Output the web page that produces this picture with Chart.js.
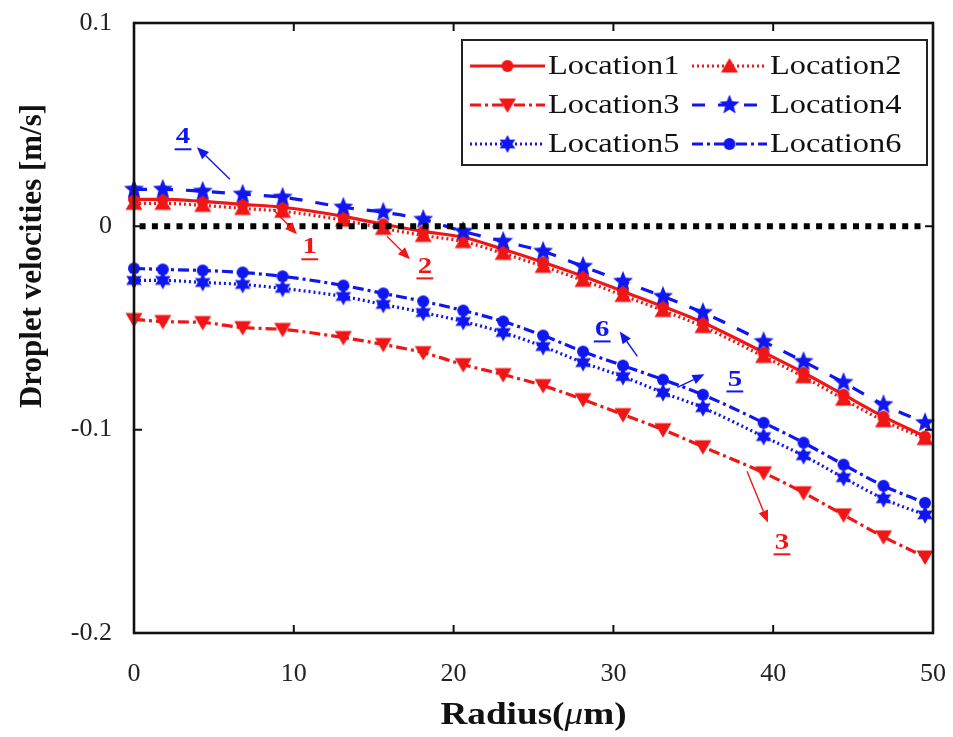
<!DOCTYPE html>
<html><head><meta charset="utf-8">
<script src="https://cdn.jsdelivr.net/npm/chart.js@4/dist/chart.umd.min.js"></script>
<style>html,body{margin:0;padding:0;background:#fff;}#wrap{width:953px;height:737px;}</style>
</head><body><div id="wrap"><canvas id="c" width="953" height="737"></canvas></div>
<script>
// ---------------- data ----------------
const radius = [0, 1.8, 4.3, 6.8, 9.3, 13.1, 15.6, 18.1, 20.6, 23.1, 25.6, 28.1, 30.6, 33.1, 35.6, 39.4, 41.9, 44.4, 46.9, 49.5];
const location1 = [0.0133,0.0133,0.0123,0.0108,0.0094,0.0049,0.0010,-0.0025,-0.0054,-0.0113,-0.0177,-0.0246,-0.0320,-0.0394,-0.0473,-0.0620,-0.0720,-0.0828,-0.0936,-0.1034];
const location2 = [0.0113,0.0113,0.0103,0.0088,0.0074,0.0030,-0.0010,-0.0045,-0.0075,-0.0133,-0.0197,-0.0266,-0.0340,-0.0414,-0.0493,-0.0640,-0.0740,-0.0850,-0.0956,-0.1044];
const location3 = [-0.0458,-0.0468,-0.0473,-0.0498,-0.0507,-0.0547,-0.0581,-0.0621,-0.0680,-0.0729,-0.0783,-0.0852,-0.0926,-0.1000,-0.1084,-0.1212,-0.1310,-0.1419,-0.1527,-0.1626];
const location4 = [0.0182,0.0182,0.0172,0.0158,0.0143,0.0094,0.0069,0.0034,-0.0025,-0.0074,-0.0123,-0.0197,-0.0271,-0.0345,-0.0424,-0.0567,-0.0665,-0.0768,-0.0877,-0.0966];
const location5 = [-0.0266,-0.0266,-0.0276,-0.0286,-0.0305,-0.0345,-0.0384,-0.0424,-0.0468,-0.0522,-0.0591,-0.0670,-0.0739,-0.0818,-0.0892,-0.1034,-0.1128,-0.1236,-0.1340,-0.1419];
const location6 = [-0.0207,-0.0212,-0.0217,-0.0227,-0.0246,-0.0291,-0.0330,-0.0369,-0.0414,-0.0468,-0.0537,-0.0616,-0.0685,-0.0754,-0.0828,-0.0966,-0.1064,-0.1172,-0.1276,-0.1360];
const seriesNames = ['Location1','Location2','Location3','Location4','Location5','Location6'];
const zeroLineX = [0.35, 49.6];
const zeroLineY = [0, 0];
const xTickValues = [0, 10, 20, 30, 40, 50];
const yTickValues = [0.1, 0, -0.1, -0.2];
const yTickLabels = ['0.1', '0', '-0.1', '-0.2'];
const xTitle = ['Radius(', 'μ', 'm)'];
const yTitle = 'Droplet velocities [m/s]';
// annotation callouts (data units)
const annText  = ['1', '2', '3', '4', '5', '6'];
const annX     = [11.0, 18.2, 40.55, 3.07, 37.6, 29.3];
const annY     = [-0.0103, -0.0197, -0.1554, 0.0438, -0.0753, -0.0507];
const arrowX0  = [8.7, 15.83, 38.36, 6.0, 34.0, 31.5];
const arrowY0  = [0.0084, -0.0049, -0.1205, 0.0231, -0.0792, -0.0640];
const arrowX1  = [10.2, 17.27, 39.67, 3.94, 35.7, 30.4];
const arrowY1  = [-0.0039, -0.0162, -0.1456, 0.0389, -0.0728, -0.0517];

// ---------------- styles ----------------
const RED = '#f01616', BLUE = '#1016f0';
const annColor = [RED, RED, RED, BLUE, BLUE, BLUE];
function markerCanvas(kind, color) {
  const s = 24, c = document.createElement('canvas');
  c.width = s; c.height = s;
  const g = c.getContext('2d');
  g.fillStyle = color; g.translate(s / 2, s / 2); g.beginPath();
  if (kind === 'circle') { g.arc(0, 0, 6, 0, Math.PI * 2); }
  else if (kind === 'square') { g.arc(0, 0, 6, 0, Math.PI * 2); }
  else if (kind === 'triUp') { g.moveTo(0, -8); g.lineTo(8.5, 6.5); g.lineTo(-8.5, 6.5); g.closePath(); }
  else if (kind === 'triDown') { g.moveTo(0, 8); g.lineTo(8.5, -6.5); g.lineTo(-8.5, -6.5); g.closePath(); }
  else if (kind === 'star5' || kind === 'star6') {
    const n = kind === 'star5' ? 5 : 6, ro = kind === 'star5' ? 10.5 : 9, ri = kind === 'star5' ? 4.6 : 5;
    for (let i = 0; i < 2 * n; i++) {
      const r = i % 2 ? ri : ro, a = -Math.PI / 2 + i * Math.PI / n;
      if (i === 0) g.moveTo(r * Math.cos(a), r * Math.sin(a)); else g.lineTo(r * Math.cos(a), r * Math.sin(a));
    }
    g.closePath();
  }
  g.fill();
  return c;
}
const seriesData = [location1, location2, location3, location4, location5, location6];
const seriesColor = [RED, RED, RED, BLUE, BLUE, BLUE];
const seriesDash = [[], [2, 3], [11, 4, 3, 4], [13, 13], [2, 3], [11, 4, 3, 4]];
const seriesMarker = ['circle', 'triUp', 'triDown', 'star5', 'star6', 'square'].map((k, i) => markerCanvas(k, seriesColor[i]));
const seriesOrder = [5, 4, 6, 1, 3, 2];

const datasets = seriesNames.map((name, i) => ({
  label: name,
  data: radius.map((x, j) => ({ x: x, y: seriesData[i][j] })),
  borderColor: seriesColor[i], backgroundColor: seriesColor[i],
  borderWidth: 3.2, borderDash: seriesDash[i],
  pointStyle: seriesMarker[i], pointRadius: 7, pointHoverRadius: 7,
  cubicInterpolationMode: 'monotone', order: seriesOrder[i], clip: false
}));
datasets.push({
  label: 'zero', data: zeroLineX.map((x, j) => ({ x: x, y: zeroLineY[j] })),
  borderColor: '#000', borderWidth: 6, borderDash: [6, 6.3], pointRadius: 0, order: 0
});

const SERIF = '"Liberation Serif", "Times New Roman", serif';
const STRETCH = 1.2;

const decor = {
  id: 'decor',
  afterDatasetsDraw(chart) {
    const { ctx, scales: { x, y } } = chart;
    ctx.save();
    for (let i = 0; i < annText.length; i++) {
      const col = annColor[i];
      const x0 = x.getPixelForValue(arrowX0[i]), y0 = y.getPixelForValue(arrowY0[i]);
      const x1 = x.getPixelForValue(arrowX1[i]), y1 = y.getPixelForValue(arrowY1[i]);
      const ang = Math.atan2(y1 - y0, x1 - x0), hl = 12, hw = 5;
      ctx.strokeStyle = col; ctx.fillStyle = col; ctx.lineWidth = 1.4; ctx.setLineDash([]);
      ctx.beginPath(); ctx.moveTo(x0, y0);
      ctx.lineTo(x1 - hl * Math.cos(ang), y1 - hl * Math.sin(ang)); ctx.stroke();
      ctx.beginPath(); ctx.moveTo(x1, y1);
      ctx.lineTo(x1 - hl * Math.cos(ang) + hw * Math.sin(ang), y1 - hl * Math.sin(ang) - hw * Math.cos(ang));
      ctx.lineTo(x1 - hl * Math.cos(ang) - hw * Math.sin(ang), y1 - hl * Math.sin(ang) + hw * Math.cos(ang));
      ctx.closePath(); ctx.fill();
      const tx = x.getPixelForValue(annX[i]), ty = y.getPixelForValue(annY[i]);
      ctx.save(); ctx.translate(tx, ty); ctx.scale(STRETCH, 1);
      ctx.font = 'bold 24px ' + SERIF; ctx.textAlign = 'center'; ctx.textBaseline = 'middle';
      ctx.fillText(annText[i], 0, 0);
      const w = ctx.measureText(annText[i]).width;
      ctx.fillRect(-w / 2 - 1, 11, w + 2, 2);
      ctx.restore();
    }
    ctx.restore();
  },
  afterDraw(chart) {
    const { ctx, chartArea: a, scales: { x, y } } = chart;
    ctx.save();
    ctx.setLineDash([]);
    ctx.strokeStyle = '#111'; ctx.lineWidth = 2;
    // ticks inward
    ctx.beginPath();
    xTickValues.forEach(v => { const px = x.getPixelForValue(v); ctx.moveTo(px, a.bottom); ctx.lineTo(px, a.bottom - 8); ctx.moveTo(px, a.top); ctx.lineTo(px, a.top + 8); });
    yTickValues.forEach(v => { const py = y.getPixelForValue(v); ctx.moveTo(a.left, py); ctx.lineTo(a.left + 8, py); ctx.moveTo(a.right, py); ctx.lineTo(a.right - 8, py); });
    ctx.stroke();
    ctx.lineWidth = 2.6; ctx.strokeRect(a.left, a.top, a.right - a.left, a.bottom - a.top);
    // legend
    const L = a.right - 471, T = a.top + 17, W = 465, H = 125;
    ctx.fillStyle = '#fff'; ctx.fillRect(L, T, W, H);
    ctx.lineWidth = 2; ctx.strokeStyle = '#222'; ctx.strokeRect(L, T, W, H);
    const rowY = [26, 65, 104], colX = [8, 230];
    seriesNames.forEach((name, i) => {
      const cx = L + colX[i % 2], cy = T + rowY[Math.floor(i / 2)];
      ctx.strokeStyle = seriesColor[i]; ctx.lineWidth = 3; ctx.setLineDash(seriesDash[i]);
      ctx.beginPath(); ctx.moveTo(cx, cy); ctx.lineTo(cx + 75, cy); ctx.stroke();
      ctx.setLineDash([]);
      const m = seriesMarker[i];
      ctx.drawImage(m, cx + 37.5 - m.width / 2, cy - m.height / 2);
      ctx.save(); ctx.translate(cx + 78, cy); ctx.scale(STRETCH, 1);
      ctx.fillStyle = '#111'; ctx.font = '27px ' + SERIF; ctx.textBaseline = 'middle'; ctx.textAlign = 'left';
      ctx.fillText(name, 0, 1); ctx.restore();
    });
    // axis titles
    ctx.fillStyle = '#111'; ctx.textBaseline = 'middle';
    ctx.save(); ctx.translate(33, 256); ctx.rotate(-Math.PI / 2);
    ctx.font = 'bold 31px ' + SERIF; ctx.textAlign = 'center'; ctx.fillText(yTitle, 0, 0); ctx.restore();
    const fonts = ['bold 31px ' + SERIF, 'italic 31px ' + SERIF, 'bold 31px ' + SERIF];
    let tw = 0; const ws = xTitle.map((t, i) => { ctx.font = fonts[i]; const w = ctx.measureText(t).width; tw += w; return w; });
    ctx.save(); ctx.translate((a.left + a.right) / 2, 716); ctx.scale(STRETCH, 1);
    let cx = -tw / 2; ctx.textAlign = 'left';
    xTitle.forEach((t, i) => { ctx.font = fonts[i]; ctx.fillText(t, cx, 0); cx += ws[i]; });
    ctx.restore();
    ctx.restore();
  }
};

new Chart(document.getElementById('c'), {
  type: 'line',
  data: { datasets: datasets },
  options: {
    responsive: false, animation: false, devicePixelRatio: 1,
    layout: { padding: { top: 23, right: 20, left: 0, bottom: 0 } },
    plugins: { legend: { display: false }, tooltip: { enabled: false } },
    scales: {
      x: {
        type: 'linear', min: 0, max: 50,
        grid: { display: false, drawTicks: false }, border: { display: false },
        afterBuildTicks: s => { s.ticks = xTickValues.map(v => ({ value: v })); },
        afterFit: s => { s.height = 104; s.paddingLeft = 0; s.paddingRight = 0; },
        ticks: { padding: 26, color: '#222', font: { family: SERIF, size: 26 }, maxRotation: 0, autoSkip: false, callback: v => String(v) }
      },
      y: {
        type: 'linear', min: -0.2, max: 0.1,
        grid: { display: false, drawTicks: false }, border: { display: false },
        afterBuildTicks: s => { s.ticks = yTickValues.map(v => ({ value: v })); },
        afterFit: s => { s.width = 134; s.paddingTop = 0; s.paddingBottom = 0; },
        ticks: { padding: 22, color: '#222', font: { family: SERIF, size: 26 }, autoSkip: false,
          callback: (v) => { const k = yTickValues.findIndex(t => Math.abs(t - v) < 1e-9); return k >= 0 ? yTickLabels[k] : ''; } }
      }
    }
  },
  plugins: [decor]
});
</script></body></html>
